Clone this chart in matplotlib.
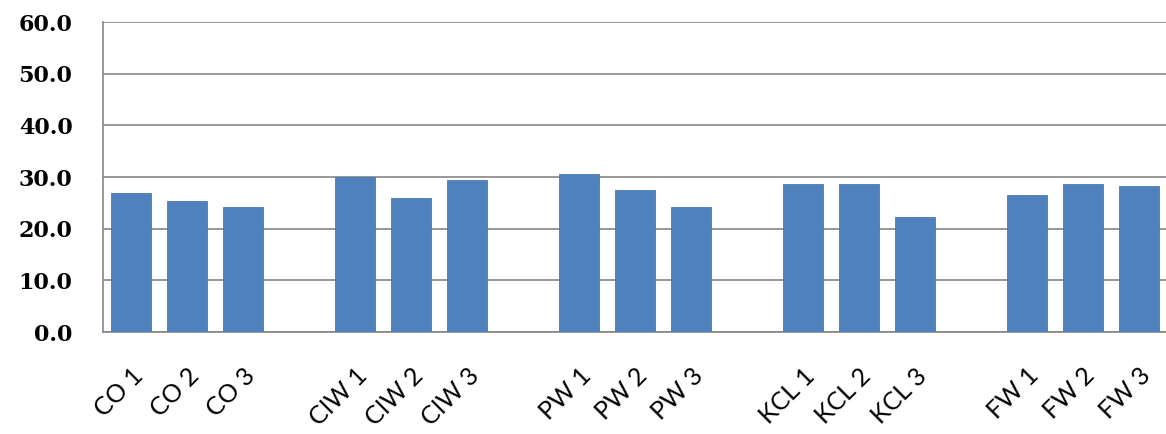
import numpy as np
import matplotlib.pyplot as plt

groups = ["CO", "CIW", "PW", "KCL", "FW"]
replicates = ["1", "2", "3"]
values = [
    [27.0, 25.4, 24.2],   # CO
    [30.0, 25.9, 29.4],   # CIW
    [30.6, 27.5, 24.2],   # PW
    [28.7, 28.7, 22.3],   # KCL
    [26.6, 28.7, 28.2],   # FW
]
y_ticks = [0, 10, 20, 30, 40, 50, 60]

# one empty slot between each group of three bars
positions, heights, labels = [], [], []
for g, (name, vals) in enumerate(zip(groups, values)):
    for r, v in enumerate(vals):
        positions.append(g * 4 + r)
        heights.append(v)
        labels.append(f"{name} {replicates[r]}")

fig = plt.figure(figsize=(11.66, 4.34), dpi=100)
ax = fig.add_axes([0.0883, 0.235, 0.9125, 0.714])

ax.bar(positions, heights, width=0.71, color="#4F81BD", edgecolor="#4A7AB3",
       linewidth=0.6, zorder=3)

ax.set_xlim(-0.5, 18.5)
ax.set_ylim(0, 60)
ax.set_yticks(y_ticks)
ax.set_yticklabels([f"{t:.1f}" for t in y_ticks], fontsize=16, fontweight="bold",
                   family="DejaVu Serif")
ax.yaxis.grid(True, color="#868686", linewidth=1.2, zorder=0)
ax.tick_params(axis="y", length=0, pad=22)

ax.set_xticks(positions)
ax.set_xticklabels(labels, rotation=45, ha="right", va="top", rotation_mode="anchor",
                   fontsize=18, family="Lato")
ax.tick_params(axis="x", length=0, pad=23)

for side in ["top", "right"]:
    ax.spines[side].set_visible(False)
for side in ["left", "bottom"]:
    ax.spines[side].set_color("#868686")
    ax.spines[side].set_linewidth(1.2)

fig.savefig("out.png", dpi=100)
